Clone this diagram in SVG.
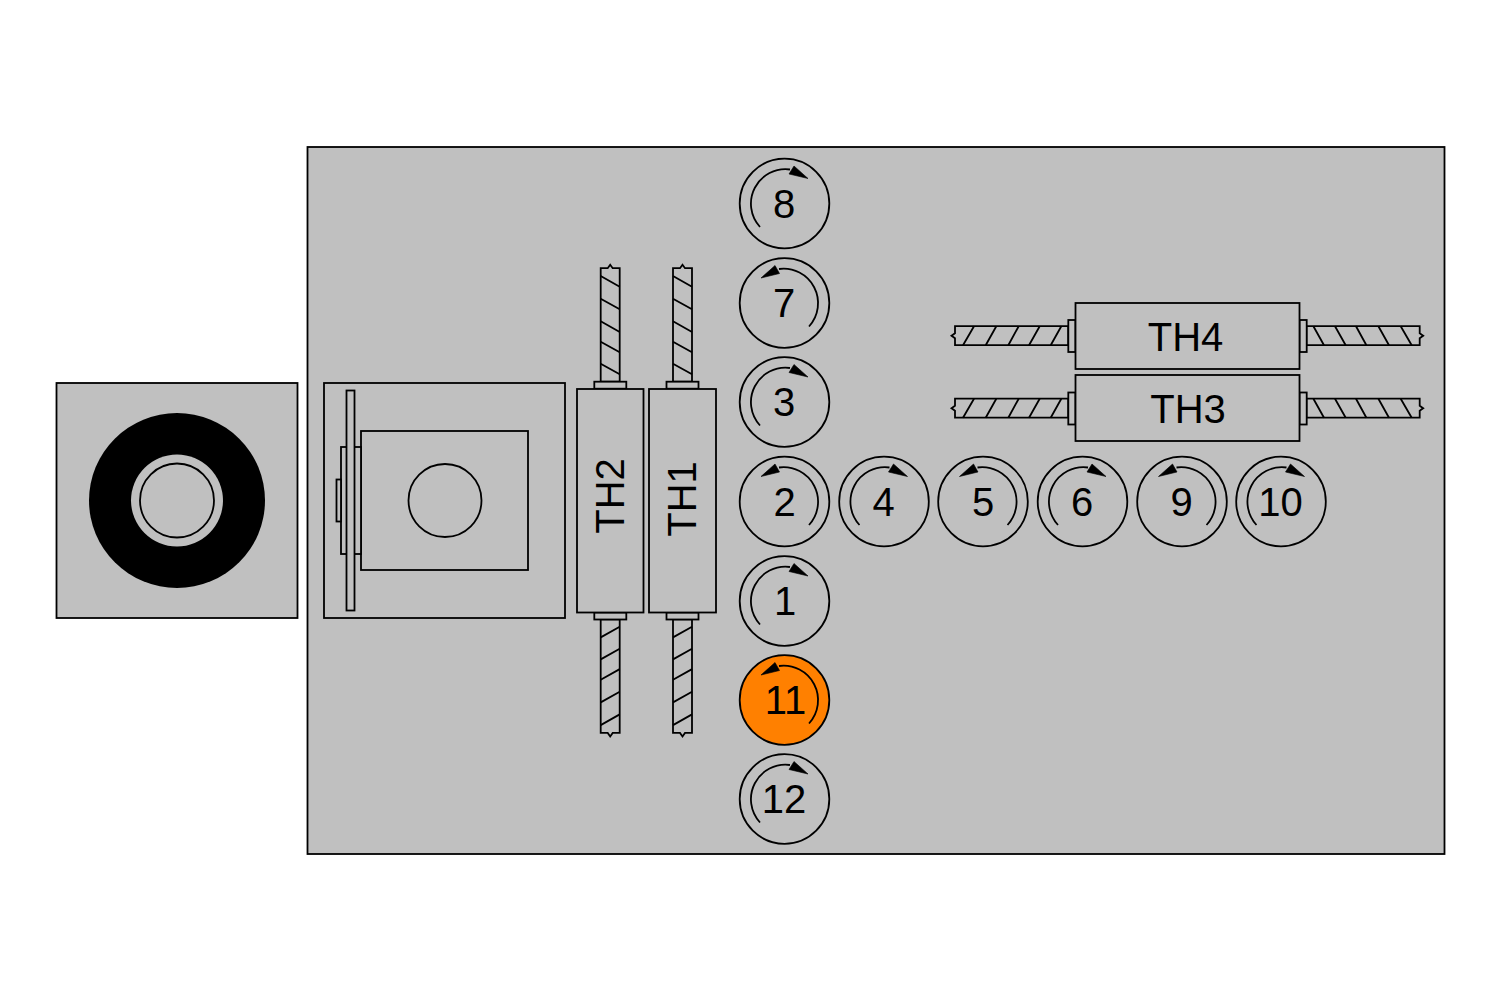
<svg xmlns="http://www.w3.org/2000/svg" width="1501" height="1001" viewBox="0 0 1501 1001">
<style>
.s{fill:#c0c0c0;stroke:#000;stroke-width:1.8}
.l{fill:none;stroke:#000;stroke-width:1.8}
.o{fill:none;stroke:#000;stroke-width:1.8}
.t{font-family:"Liberation Sans",Arial,sans-serif;font-size:40px;fill:#000;text-anchor:middle}
.r{fill:#c0c0c0;stroke:#000;stroke-width:1.8}
.h{fill:#000;stroke:#000;stroke-width:0.6}
</style>
<defs>
<g id="cw"><path class="o" d="M-24.500 23.500A34.500 34.500 0 0 1 5.500 -34"/><path class="h" d="M9.500 -37.500L4.500 -29.500L23.500 -25Z"/></g>
<g id="ccw"><path class="o" d="M24.500 23.500A34.500 34.500 0 0 0 -5.500 -34"/><path class="h" d="M-9.500 -37.500L-5 -29.500L-23.500 -25Z"/></g>
<g id="screwV">
<path class="s" d="M-9.500 -113.500H-2.500L0 -117L2.500 -113.500H9.500V0H-9.500Z"/>
<path class="l" d="M-9.500 -105.700L9.500 -95M-9.500 -83L9.500 -72.400M-9.500 -60.400L9.500 -49.700M-9.500 -40L9.500 -29.400M-9.500 -18L9.500 -7.400"/>
</g>
<g id="screwH">
<path class="s" d="M0 -9.500H113.300V9.500H0V2.500L-3.500 0L0 -2.500Z"/>
<path class="l" d="M8 9.500L19 -9.500M30.700 9.500L41.300 -9.500M53.300 9.500L63.700 -9.500M74 9.500L84.700 -9.500M95.700 9.500L106.300 -9.500"/>
</g>
</defs>
<rect width="1501" height="1001" fill="#fff"/>
<g id="base"><rect class="s" x="307.500" y="147" width="1137" height="707"/></g>
<g id="end-view">
<rect class="s" x="56.500" y="383" width="241" height="235"/>
<ellipse cx="177" cy="500.500" rx="88" ry="87.500" fill="#000"/>
<circle cx="177" cy="500.500" r="46" fill="#c0c0c0"/>
<circle class="l" cx="177" cy="500.500" r="37"/>
</g>
<g id="spindle">
<rect class="s" x="324" y="383" width="241" height="235"/>
<rect class="s" x="361" y="431" width="167" height="139"/>
<circle class="l" cx="445" cy="500.500" r="36.500"/>
<rect class="s" x="341" y="447" width="20" height="107"/>
<rect class="s" x="336.500" y="479.500" width="4.500" height="42"/>
<rect class="s" x="346.500" y="390.500" width="8" height="220"/>
</g>
<g id="connectors">
<use href="#screwV" transform="translate(610.200 381.700)"/>
<use href="#screwV" transform="translate(682.500 381.700)"/>
<use href="#screwV" transform="translate(610.200 619.400) scale(1 -1)"/>
<use href="#screwV" transform="translate(682.500 619.400) scale(1 -1)"/>
<use href="#screwH" transform="translate(955 335.700)"/>
<use href="#screwH" transform="translate(955 408.200)"/>
<use href="#screwH" transform="translate(1419.700 335.700) scale(-1 1)"/>
<use href="#screwH" transform="translate(1419.700 408.200) scale(-1 1)"/>
</g>
<g id="TH2">
<rect class="s" x="594.300" y="381.700" width="32" height="7"/>
<rect class="s" x="594.300" y="612.500" width="32" height="7"/>
<rect class="s" x="577" y="389" width="66.500" height="223.500"/>
<text class="t" transform="translate(623.500 496) rotate(-90)">TH2</text>
</g>
<g id="TH1">
<rect class="s" x="666.500" y="381.700" width="32" height="7"/>
<rect class="s" x="666.500" y="612.500" width="32" height="7"/>
<rect class="s" x="649" y="389" width="67" height="223.500"/>
<text class="t" transform="translate(696 499) rotate(-90)">TH1</text>
</g>
<g id="TH4">
<rect class="s" x="1068.300" y="320" width="7.200" height="32"/>
<rect class="s" x="1299.500" y="320" width="7.200" height="32"/>
<rect class="s" x="1075.500" y="303" width="224" height="66"/>
<text class="t" x="1185.500" y="350.500">TH4</text>
</g>
<g id="TH3">
<rect class="s" x="1068.300" y="392.500" width="7.200" height="32"/>
<rect class="s" x="1299.500" y="392.500" width="7.200" height="32"/>
<rect class="s" x="1075.500" y="375" width="224" height="66"/>
<text class="t" x="1188" y="422.500">TH3</text>
</g>
<g id="n8"><circle class="r" cx="784.500" cy="203.500" r="44.800"/><use href="#cw" x="784.500" y="203.500"/><text class="t" x="784" y="218">8</text></g>
<g id="n7"><circle class="r" cx="784.500" cy="303" r="44.800"/><use href="#ccw" x="784.500" y="303"/><text class="t" x="784" y="317">7</text></g>
<g id="n3"><circle class="r" cx="784.500" cy="402" r="44.800"/><use href="#cw" x="784.500" y="402"/><text class="t" x="784" y="416">3</text></g>
<g id="n2"><circle class="r" cx="784.500" cy="501.500" r="44.800"/><use href="#ccw" x="784.500" y="501.500"/><text class="t" x="784.500" y="515.500">2</text></g>
<g id="n1"><circle class="r" cx="784.500" cy="601" r="44.800"/><use href="#cw" x="784.500" y="601"/><text class="t" x="785" y="615">1</text></g>
<g id="n11"><circle class="r" style="fill:#ff8000" cx="784.500" cy="700" r="44.800"/><use href="#ccw" x="784.500" y="700"/><text class="t" x="785.500" y="714">11</text></g>
<g id="n12"><circle class="r" cx="784.500" cy="799" r="44.800"/><use href="#cw" x="784.500" y="799"/><text class="t" x="784" y="813">12</text></g>
<g id="n4"><circle class="r" cx="884" cy="501.500" r="44.800"/><use href="#cw" x="884" y="501.500"/><text class="t" x="883.500" y="515.500">4</text></g>
<g id="n5"><circle class="r" cx="983" cy="501.500" r="44.800"/><use href="#ccw" x="983" y="501.500"/><text class="t" x="983" y="515.500">5</text></g>
<g id="n6"><circle class="r" cx="1082.500" cy="501.500" r="44.800"/><use href="#cw" x="1082.500" y="501.500"/><text class="t" x="1082" y="515.500">6</text></g>
<g id="n9"><circle class="r" cx="1182" cy="501.500" r="44.800"/><use href="#ccw" x="1182" y="501.500"/><text class="t" x="1181.500" y="515.500">9</text></g>
<g id="n10"><circle class="r" cx="1281" cy="501.500" r="44.800"/><use href="#cw" x="1281" y="501.500"/><text class="t" x="1280.500" y="515.500">10</text></g>
</svg>
